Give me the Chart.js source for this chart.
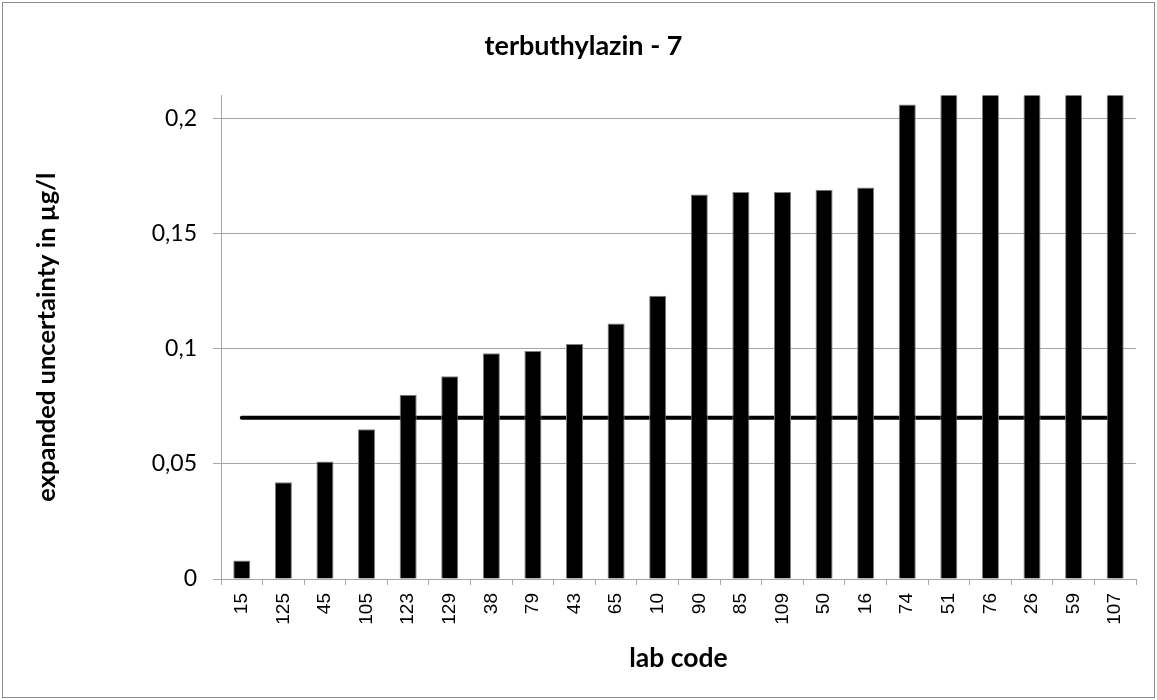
<!DOCTYPE html>
<html>
<head>
<meta charset="utf-8">
<title>terbuthylazin - 7</title>
<script src="https://cdn.jsdelivr.net/npm/chart.js@4/dist/chart.umd.min.js"></script>
<style>
    html, body { margin: 0; padding: 0; background: #fff; }
    #wrap { width: 1157px; height: 700px; }
</style>
</head>
<body>
<div id="wrap"><canvas id="bar-chart"></canvas></div>
<script>
// lab codes, sorted by reported uncertainty
const labCodes = ['15', '125', '45', '105', '123', '129', '38', '79', '43', '65', '10',
    '90', '85', '109', '50', '16', '74', '51', '76', '26', '59', '107'];

// expanded uncertainty in µg/l (last five go past the top of the axis)
const uncertainty = [0.008, 0.042, 0.051, 0.065, 0.080, 0.088, 0.098, 0.099, 0.102, 0.111, 0.123,
    0.167, 0.168, 0.168, 0.169, 0.170, 0.206, 0.22, 0.24, 0.25, 0.28, 0.30];

// target value, drawn as a flat line across all labs
const targetValue = 0.07;
const targetLine = labCodes.map(() => targetValue);

const yTickValues = [0, 0.05, 0.1, 0.15, 0.2];
const yMax = 0.21;

const gridColor = '#a6a6a6';
const ctx = document.getElementById('bar-chart');

// white background + thin frame round the whole chart
const framePlugin = {
    id: 'frame',
    beforeDraw(chart) {
        const c = chart.ctx;
        c.save();
        c.fillStyle = '#fff';
        c.fillRect(0, 0, chart.width, chart.height);
        c.strokeStyle = '#8c8c8c';
        c.lineWidth = 1;
        c.strokeRect(2.5, 2.5, chart.width - 5, chart.height - 5);
        c.restore();
    }
};

const config = {
    type: 'bar',
    data: {
        labels: labCodes,
        datasets: [{
            type: 'line',
            label: 'target',
            data: targetLine,
            borderColor: '#000',
            borderWidth: 4,
            borderCapStyle: 'round',
            pointRadius: 0,
            fill: false,
            order: 1
        }, {
            label: 'expanded uncertainty',
            data: uncertainty,
            backgroundColor: '#000',
            borderColor: '#7f7f7f',
            borderWidth: 1,
            barPercentage: 0.41,
            categoryPercentage: 1,
            order: 0
        }]
    },
    options: {
        responsive: true,
        maintainAspectRatio: false,
        animation: false,
        layout: {
            // left padding keeps the chart title centred a bit right of the canvas middle
            padding: { left: 31, right: 21, top: 0, bottom: 0 }
        },
        plugins: {
            legend: { display: false },
            tooltip: { enabled: false },
            title: {
                display: true,
                text: 'terbuthylazin - 7',
                color: '#000',
                font: { family: 'Lato', size: 27, weight: 'bold' },
                padding: { top: 30, bottom: 33 }
            }
        },
        scales: {
            x: {
                grid: {
                    offset: true,
                    drawOnChartArea: false,
                    drawTicks: true,
                    tickLength: 6,
                    color: gridColor
                },
                border: { color: gridColor },
                ticks: {
                    color: '#000',
                    autoSkip: false,
                    minRotation: 90,
                    maxRotation: 90,
                    padding: 8,
                    font: { family: 'Liberation Sans', size: 19 }
                },
                title: {
                    display: true,
                    text: 'lab code',
                    color: '#000',
                    font: { family: 'Lato', size: 26.5, weight: 'bold' },
                    padding: { top: 0, bottom: 26 }
                },
                afterFit: (scale) => { scale.height = 121; }
            },
            y: {
                min: 0,
                max: yMax,
                grid: {
                    color: gridColor,
                    tickLength: 8
                },
                border: { color: gridColor },
                afterBuildTicks: (scale) => {
                    scale.ticks = yTickValues.map(v => ({ value: v }));
                },
                ticks: {
                    color: '#000',
                    padding: 16,
                    font: { family: 'Lato', size: 23 },
                    callback: (v) => String(v).replace('.', ',')
                },
                title: {
                    display: true,
                    text: 'expanded uncertainty in µg/l',
                    color: '#000',
                    font: { family: 'Lato', size: 25.5, weight: 'bold' },
                    padding: { top: 0, bottom: 0 }
                },
                afterFit: (scale) => { scale.width = 190; }
            }
        }
    },
    plugins: [framePlugin]
};

const chart = new Chart(ctx, config);
</script>
</body>
</html>
